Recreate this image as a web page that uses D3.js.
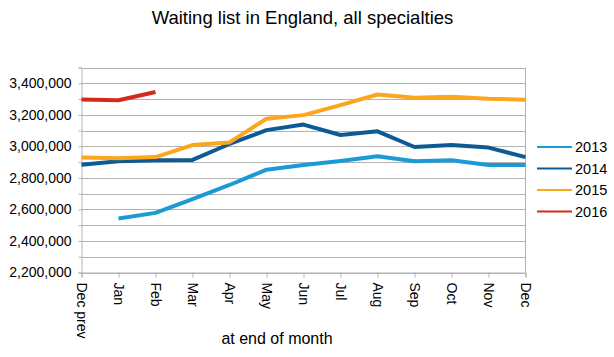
<!DOCTYPE html>
<html><head><meta charset="utf-8">
<script src="https://cdn.jsdelivr.net/npm/d3@7"></script>
<style>body{margin:0;background:#fff}svg{display:block;font-family:"Liberation Sans",Arial,sans-serif}</style>
</head><body>
<svg id="c" width="614" height="357"></svg>
<script>
const months = ["Dec prev","Jan","Feb","Mar","Apr","May","Jun","Jul","Aug","Sep","Oct","Nov","Dec"];
const seriesNames = ["2013","2014","2015","2016"];
const v2013 = [null,2542000,2578000,2665000,2755000,2852000,2882000,2907000,2937000,2905000,2912000,2882000,2882000];
const v2014 = [2884000,2905000,2912000,2914000,3015000,3103000,3138000,3072000,3095000,2996000,3008000,2992000,2932000];
const v2015 = [2930000,2924000,2932000,3008000,3025000,3175000,3198000,3261000,3329000,3308000,3314000,3302000,3296000];
const v2016 = [3297000,3292000,3345000];
const colors = ["#1b9ad6","#0d5a94","#fba61c","#d42a1c"];
const yTicks = [2200000,2400000,2600000,2800000,3000000,3200000,3400000];
const yGrid = d3.range(2200000, 3500001, 100000);

const svg = d3.select("#c");
const L = 81.5, R = 525.5, T = 67.5, B = 272.5;
const x = d3.scalePoint().domain(months).range([L, R]);
const y = d3.scaleLinear().domain([2200000, 3500000]).range([B, T]);
const FF = "Liberation Sans, Arial, sans-serif";

svg.append("text").attr("x", 302.5).attr("y", 24).attr("text-anchor", "middle")
  .attr("font-size", 18.5).attr("fill", "#000").text("Waiting list in England, all specialties");

// grid
svg.append("g").selectAll("line").data(yGrid).join("line")
  .attr("x1", L).attr("x2", R).attr("y1", d => Math.round(y(d)) + 0.5).attr("y2", d => Math.round(y(d)) + 0.5)
  .attr("stroke", "#b3b3b3").attr("stroke-width", 1);
svg.append("line").attr("x1", R).attr("x2", R).attr("y1", T).attr("y2", B).attr("stroke", "#b3b3b3");

// y axis
const ya = svg.append("g").attr("transform", `translate(${L},0)`)
  .call(d3.axisLeft(y).tickValues(yGrid).tickSize(3).tickFormat(d => yTicks.includes(d) ? d3.format(",")(d) : ""));
ya.select(".domain").attr("stroke", "#b3b3b3");
ya.selectAll(".tick line").attr("stroke", "#b3b3b3");
ya.selectAll(".tick text").attr("font-size", 14).attr("fill", "#000").attr("x", -10).attr("font-family", FF);

// x axis
const xa = svg.append("g").attr("transform", `translate(0,${B})`)
  .call(d3.axisBottom(x).tickSize(5));
xa.select(".domain").attr("stroke", "#b3b3b3");
xa.selectAll(".tick line").attr("stroke", "#b3b3b3");
xa.selectAll(".tick text").attr("font-size", 14).attr("fill", "#000")
  .attr("font-family", FF)
  .attr("transform", "rotate(90)").attr("text-anchor", "start")
  .attr("x", 10).attr("y", 0).attr("dy", "0.35em");

svg.append("text").attr("x", 277).attr("y", 344).attr("text-anchor", "middle")
  .attr("font-size", 16).attr("fill", "#000").text("at end of month");

// lines
const all = [v2013, v2014, v2015, v2016];
const line = d3.line().defined(d => d.v != null).x(d => x(d.m)).y(d => y(d.v));
all.forEach((arr, i) => {
  const data = arr.map((v, j) => ({m: months[j], v}));
  svg.append("path").datum(data).attr("d", line).attr("fill", "none")
    .attr("stroke", colors[i]).attr("stroke-width", 4).attr("stroke-linejoin", "round");
});

// legend
const lg = svg.append("g");
seriesNames.forEach((n, i) => {
  const yy = 147 + i * 21.5;
  lg.append("line").attr("x1", 537).attr("x2", 572).attr("y1", yy).attr("y2", yy)
    .attr("stroke", colors[i]).attr("stroke-width", 2);
  lg.append("text").attr("x", 575).attr("y", yy).attr("dy", "0.35em")
    .attr("font-size", 14.5).attr("fill", "#000").text(n);
});
</script>
</body></html>
